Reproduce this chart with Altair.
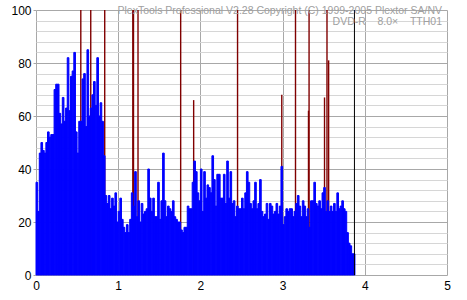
import altair as alt
import pandas as pd

step = 0.02
seg0 = [35, 24, 46, 50, 47, 46, 50, 54, 52, 53,
        53, 70, 72, 72, 61, 57, 67, 58, 63, 82,
        62, 75, 77, 84, 54, 46, 58, 58, 74, 76,
        56, 85, 60, 63, 68, 73, 64, 82, 60, 65,
        58, 45, 30, 27, 30, 25, 29, 26, 31, 20]
seg1 = [24, 29, 21, 18, 16, 19, 16, 21, 31, 26,
        39, 22, 28, 20, 27, 23, 24, 25, 40, 29,
        24, 29, 22, 22, 35, 21, 28, 46, 28, 22,
        26, 25, 24, 28, 22, 21, 20, 20, 17, 16,
        18, 18, 26, 25, 25, 35, 43, 39, 31, 28]
seg2 = [40, 24, 39, 29, 34, 33, 31, 45, 36, 26,
        38, 38, 29, 29, 38, 27, 43, 29, 39, 27,
        28, 22, 26, 25, 25, 29, 25, 31, 39, 35,
        27, 25, 28, 35, 25, 27, 36, 24, 22, 23,
        27, 21, 27, 26, 23, 24, 27, 23, 26, 41]
seg3 = [19, 22, 25, 24, 25, 25, 22, 24, 27, 30,
        26, 22, 28, 26, 22, 25, 18, 28, 28, 35,
        27, 26, 28, 25, 31, 33, 24, 28, 24, 26,
        24, 27, 24, 31, 25, 26, 28, 25, 24, 16,
        12, 11, 8, 8]

red_x = [0.545, 0.666, 0.836, 1.178, 1.186, 1.241, 1.76, 1.918,
         2.452, 2.99, 3.157, 3.315, 3.322, 3.51, 3.54, 3.56]
red_h = [100, 100, 100, 100, 100, 100, 100, 66,
         100, 68, 100, 62, 100, 67, 100, 81]
end_x = [3.874]
end_h = [100]

x_ticks = [i * 0.5 for i in range(11)]
y_ticks = [i * 4 for i in range(26)]

NB = "\u00a0"
title1 = "PlexTools Professional V2.28 Copyright (C) 1999-2005 Plextor SA/NV"
title2 = "DVD-R" + NB * 4 + "8.0\u00d7" + NB * 4 + "TTH01"

heights = seg0 + seg1 + seg2 + seg3
blue = pd.DataFrame({"x": [round(i * step, 4) for i in range(len(heights))], "h": heights})
blue["x2"] = blue["x"] + step
red = pd.DataFrame({"x": red_x, "h": red_h})
end = pd.DataFrame({"x": end_x, "h": end_h})

xs = alt.Scale(domain=[0, 5], nice=False, zero=False)
ys = alt.Scale(domain=[0, 100], nice=False)

x_axis = alt.Axis(
    values=x_ticks, grid=True, title=None, domain=False, ticks=False, format="d",
    gridColor={"condition": {"test": "datum.value % 1 === 0", "value": "#a8a8a8"}, "value": "#d6d6d6"},
    labelExpr="datum.value % 1 === 0 ? datum.label : ''",
    labelFont="Liberation Sans", labelFontSize=12, labelColor="#000000",
    labelPadding=5, labelFlush=False, labelOverlap=False, labelBound=False,
)
y_axis = alt.Axis(
    values=y_ticks, grid=True, title=None, domain=False, ticks=True, tickSize=3, format="d",
    tickColor={"condition": {"test": "datum.value % 20 === 0", "value": "#a8a8a8"}, "value": "transparent"},
    gridColor={"condition": {"test": "datum.value % 20 === 0", "value": "#a8a8a8"}, "value": "#d6d6d6"},
    labelExpr="datum.value % 20 === 0 ? datum.label : ''",
    labelFont="Liberation Sans", labelFontSize=12, labelColor="#000000",
    labelPadding=2, labelFlush=False, labelOverlap=False, labelBound=False,
)

X = alt.X("x:Q", scale=xs, axis=x_axis)
Y = alt.Y("h:Q", scale=ys, axis=y_axis)

red_layer = alt.Chart(red).mark_rule(color="#800000", strokeWidth=1.4).encode(
    x=X, y=Y, y2=alt.datum(0)
)
blue_layer = alt.Chart(blue).mark_rect(color="#0000ff", stroke="#0000ff", strokeWidth=1.0).encode(
    x=X, x2="x2:Q", y=Y, y2=alt.datum(0)
)
end_layer = alt.Chart(end).mark_rule(color="#000000", strokeWidth=1).encode(
    x=X, y=Y, y2=alt.datum(0)
)
t1 = alt.Chart(pd.DataFrame({"t": [title1]})).mark_text(
    align="right", baseline="alphabetic", font="Liberation Sans", fontSize=10.5, color="#a0a0a0"
).encode(x=alt.value(406), y=alt.value(3.5), text="t:N")
t2 = alt.Chart(pd.DataFrame({"t": [title2]})).mark_text(
    align="right", baseline="alphabetic", font="Liberation Sans", fontSize=10.5, color="#a0a0a0"
).encode(x=alt.value(406), y=alt.value(15), text="t:N")

chart = alt.layer(red_layer, blue_layer, end_layer, t1, t2).properties(
    width=411, height=265,
    autosize=alt.AutoSizeParams(type="none"),
    padding={"left": 36, "top": 10, "right": 20, "bottom": 25},
    background="#ffffff",
).configure_view(stroke=None)

chart.save("out.html", embed_options={"renderer": "svg", "actions": False})
